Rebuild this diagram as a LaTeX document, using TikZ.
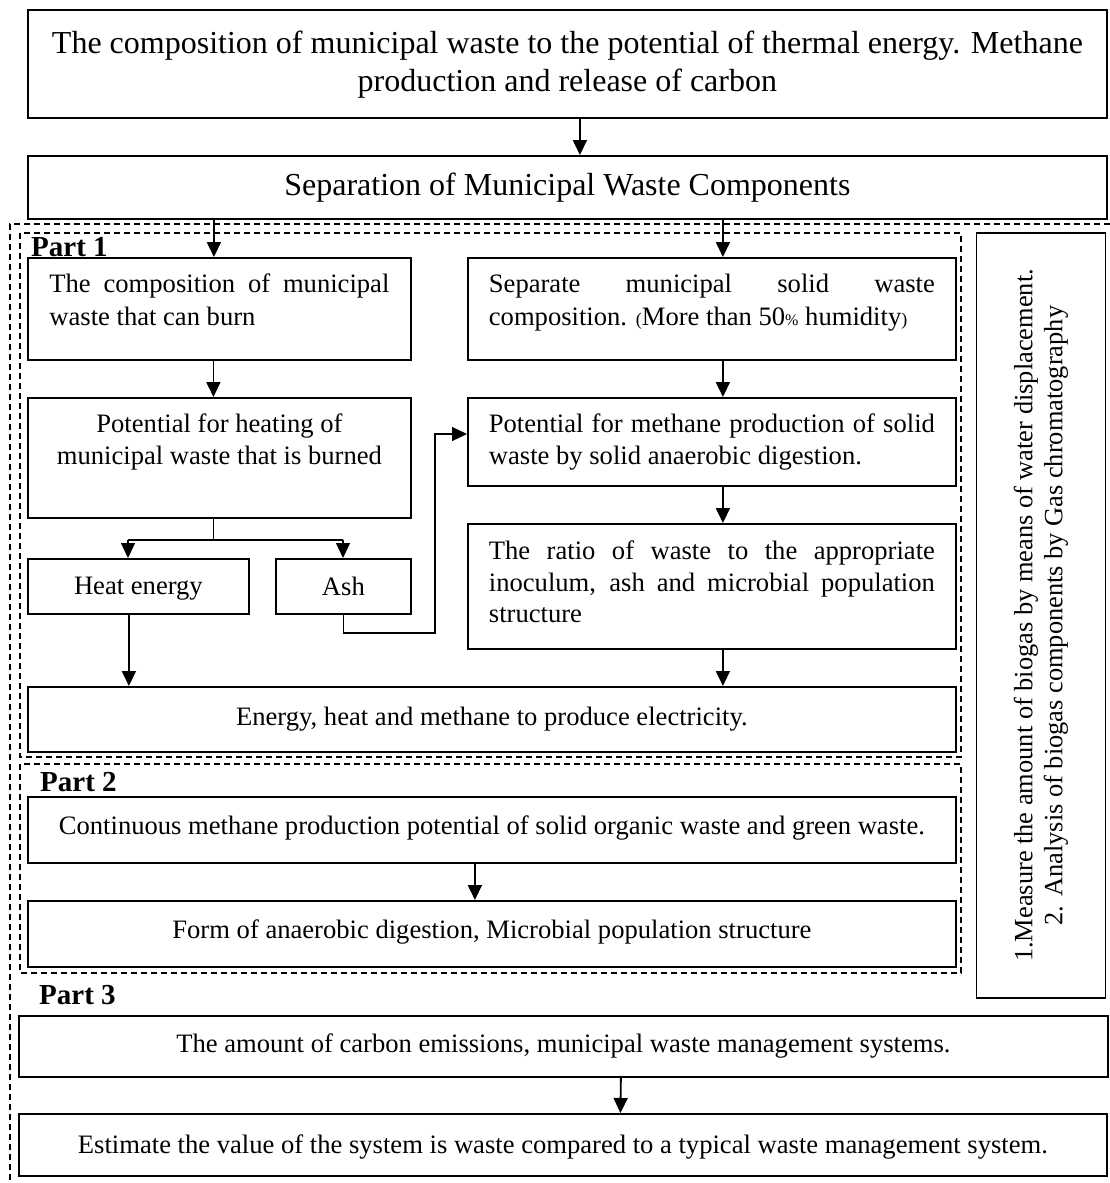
\documentclass[tikz,border=0pt]{standalone}
\usepackage{fontspec}
\setmainfont{Liberation Serif}
\usetikzlibrary{arrows.meta}
\newcommand\fsz[2]{\fontsize{#1}{#2}\selectfont}
\begin{document}
\begin{tikzpicture}[x=1pt,y=-1pt,
  box/.style={draw, line width=1.8pt, inner sep=0pt, anchor=north west},
  tip/.style={-{Triangle[length=15pt,width=14pt]}},
  arr/.style={line width=1.8pt, tip},
  thinl/.style={line width=1.2pt},
  dashbox/.style={draw, line width=1.4pt, dash pattern=on 6pt off 4pt},
  txt/.style={font=\fsz{26.6}{32}},
  partlbl/.style={font=\fsz{29}{30}\bfseries, anchor=base west, inner sep=0pt}]
\useasboundingbox (0,0) rectangle (1110,1183);

% top
\node[box, minimum width=1079pt, minimum height=108pt, align=center, font=\fsz{32}{38}, text depth=6pt] (top) at (27,9)
  {The composition of municipal waste to the potential of thermal energy. Methane\\production and release of carbon};
\node[box, minimum width=1079pt, minimum height=63pt, font=\fsz{32}{36}] (sep) at (27,155)
  {Separation of Municipal Waste Components};

% dashed frames
\draw[dashbox] (1110,224) -- (10,224) -- (10,1183);
\draw[dashbox] (20,233) rectangle (961,757);
\draw[dashbox] (20,764) rectangle (961,973);

% part 1 left
\node[box, minimum width=383pt, minimum height=102pt] (b1) at (27,257)
  {\parbox[c][102pt][t]{340pt}{\fsz{26.6}{33}\vspace*{16pt}The composition of municipal\linebreak waste that can burn}};
\node[box, minimum width=383pt, minimum height=120pt] (b2) at (27,397)
  {\parbox[c][120pt][t]{375pt}{\centering\fsz{26.6}{32}\vspace*{16pt}Potential for heating of\\municipal waste that is burned}};
\node[box, minimum width=221pt, minimum height=55pt, txt, text depth=2pt] (heat) at (27,558) {Heat energy};
\node[box, minimum width=135pt, minimum height=55pt, txt] (ash) at (275,558) {Ash};

% part 1 right
\node[box, minimum width=488pt, minimum height=102pt] (r1) at (467,257)
  {\parbox[c][102pt][t]{446pt}{\fsz{26.6}{33}\vspace*{16pt}Separate municipal solid waste\linebreak composition. {\fsz{18}{20}(}More than 50{\fsz{16}{20}\%} humidity{\fsz{18}{20})}}};
\node[box, minimum width=488pt, minimum height=88pt] (r2) at (467,397)
  {\parbox[c][88pt][t]{446pt}{\fsz{26.6}{32}\vspace*{16pt}Potential for methane production of solid\linebreak waste by solid anaerobic digestion.}};
\node[box, minimum width=488pt, minimum height=125pt] (r3) at (467,523)
  {\parbox[c][125pt][t]{446pt}{\fsz{26.6}{31.5}\vspace*{17pt}The ratio of waste to the appropriate\linebreak inoculum, ash and microbial population\linebreak structure}};

\node[box, minimum width=928pt, minimum height=65pt, txt] (energy) at (27,686)
  {Energy, heat and methane to produce electricity.};

% part 2
\node[box, minimum width=928pt, minimum height=66pt, txt, text depth=10pt] (cont) at (27,796)
  {Continuous methane production potential of solid organic waste and green waste.};
\node[box, minimum width=928pt, minimum height=66pt, txt, text depth=10pt] (form) at (27,900)
  {Form of anaerobic digestion, Microbial population structure};

% side box
\node[draw, line width=1.8pt, inner sep=0pt, rotate=90, minimum width=765pt, minimum height=129pt,
  align=center, font=\fsz{26.4}{30}] (side) at (1041,615.5)
  {1.Measure the amount of biogas by means of water displacement.\\2. Analysis of biogas components by Gas chromatography};

% part 3
\node[box, minimum width=1089pt, minimum height=61pt, txt] (carbon) at (18,1015)
  {The amount of carbon emissions, municipal waste management systems.};
\node[box, minimum width=1088pt, minimum height=62pt, txt, text depth=2pt] (est) at (18,1113)
  {Estimate the value of the system is waste compared to a typical waste management system.};

% labels
\node[partlbl] (p1) at (31,256) {Part 1};
\node[partlbl] (p2) at (40,791) {Part 2};
\node[partlbl] (p3) at (39,1004) {Part 3};

% connectors
\draw[arr] ([xshift=12.5pt]top.south) -- ([xshift=12.5pt]sep.north);
\draw[arr] ([xshift=-5.5pt]b1.north |- sep.south) -- ([xshift=-5.5pt]b1.north);
\draw[arr] ([xshift=11pt]r1.north |- sep.south) -- ([xshift=11pt]r1.north);
\draw[arr] ([xshift=-6pt]b1.south) -- ([xshift=-6pt]b2.north);
\coordinate (brL) at (128,540);
\coordinate (brR) at (343,540);
\draw[thinl] ([xshift=-6pt]b2.south) -- ([xshift=-6pt]b2.south |- brL);
\draw[thinl] (brL) -- (brR);
\draw[arr, line width=1.2pt] (brL) -- (brL |- heat.north);
\draw[arr, line width=1.2pt] (brR) -- (brR |- ash.north);
\draw[arr] ([xshift=-9.5pt]heat.south) -- ([xshift=-9.5pt]heat.south |- energy.north);
\coordinate (ashlow) at (435,633);
\coordinate (ashup) at (435,434);
\draw[thinl, tip] (ash.south) -- (ash.south |- ashlow) -- (ashlow) -- (ashup) -- (ashup -| r2.west);
\draw[arr] ([xshift=11pt]r1.south) -- ([xshift=11pt]r2.north);
\draw[arr] ([xshift=11pt]r2.south) -- ([xshift=11pt]r3.north);
\draw[arr] ([xshift=11pt]r3.south) -- ([xshift=11pt]r3.south |- energy.north);
\draw[arr] ([xshift=-17pt]cont.south) -- ([xshift=-17pt]form.north);
\draw[arr] ([xshift=57.5pt]carbon.south) -- ([xshift=57.5pt]est.north);
\end{tikzpicture}
\end{document}
